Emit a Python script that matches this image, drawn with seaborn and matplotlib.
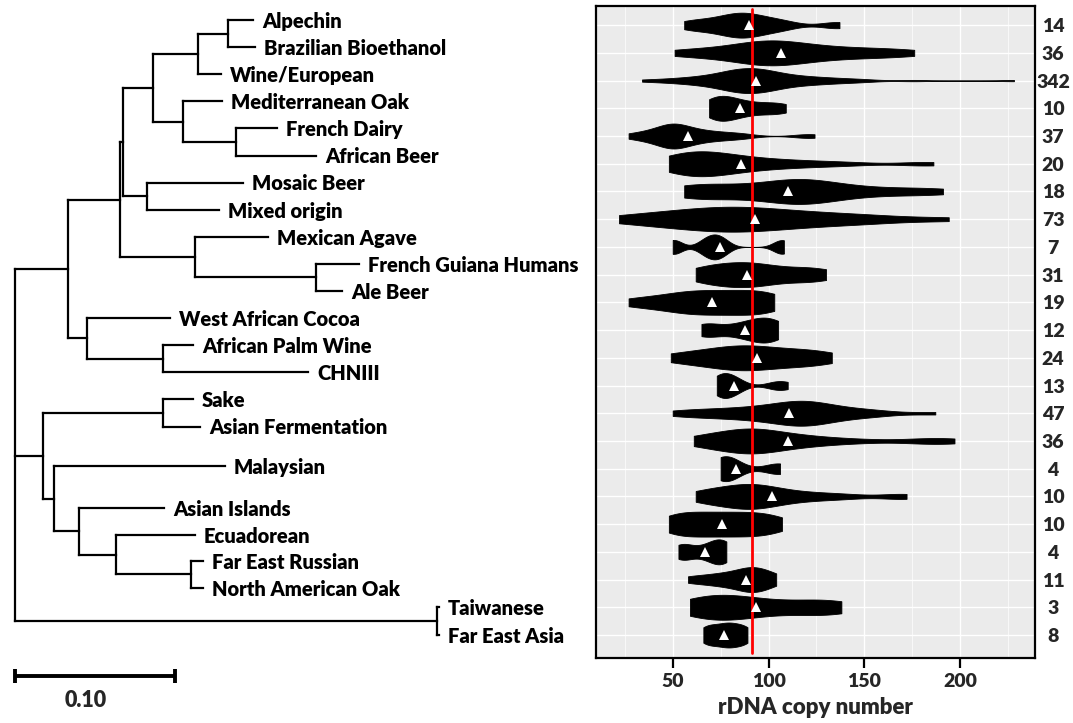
import numpy as np
import pandas as pd
import matplotlib
matplotlib.use("Agg")
import matplotlib.pyplot as plt
import seaborn as sns

# ---------------- data ----------------
populations = ["Alpechin", "Brazilian Bioethanol", "Wine/European", "Mediterranean Oak",
               "French Dairy", "African Beer", "Mosaic Beer", "Mixed origin", "Mexican Agave",
               "French Guiana Humans", "Ale Beer", "West African Cocoa", "African Palm Wine",
               "CHNIII", "Sake", "Asian Fermentation", "Malaysian", "Asian Islands",
               "Ecuadorean", "Far East Russian", "North American Oak", "Taiwanese",
               "Far East Asia"]
strain_counts = [14, 36, 342, 10, 37, 20, 18, 73, 7, 31, 19, 12, 24, 13, 47, 36, 4, 10, 10,
                 4, 11, 3, 8]
mean_copy_number = [90, 106.4, 93.6, 85, 58, 85.8, 110, 92.9, 74.9, 89, 70.7, 87.6, 94.1,
                    82.2, 110.9, 110, 83.2, 101.9, 75.9, 67, 88.3, 93.6, 76.6]
# representative rDNA copy number values per population
copy_number_samples = [
    [56, 60, 65, 70, 74, 77, 80, 82, 84, 86, 88, 90, 92, 95, 98, 102, 106, 111, 134, 137],
    [51, 62, 72, 80, 86, 90, 94, 97, 100, 103, 106, 110, 114, 118, 124, 130, 138, 146, 155,
     165, 176],
    [34, 44, 50, 55, 59, 62, 65, 68, 70, 72, 74, 76, 78, 79, 80, 81, 82, 83, 84, 85, 86, 87,
     88, 89, 90, 91, 92, 93, 94, 95, 96, 97, 98, 99, 100, 101, 102, 104, 106, 108, 110, 112,
     114, 117, 120, 123, 126, 130, 134, 139, 145, 152, 176, 228],
    [69, 70, 72, 74, 76, 78, 80, 83, 86, 90, 95, 100, 105, 109],
    [27, 32, 36, 39, 42, 44, 46, 47, 48, 49, 50, 51, 52, 53, 54, 56, 58, 60, 62, 65, 68, 71,
     75, 79, 84, 89, 118, 124],
    [48, 49, 51, 53, 55, 57, 59, 61, 63, 65, 67, 69, 71, 73, 75, 78, 81, 84, 88, 92, 97, 102,
     108, 115, 123, 133, 145, 178, 186],
    [56, 58, 62, 68, 75, 83, 92, 100, 105, 109, 112, 115, 118, 121, 124, 128, 134, 142, 152,
     165, 180, 191],
    [22, 35, 45, 53, 60, 66, 71, 76, 81, 86, 91, 96, 102, 109, 117, 126, 136, 148, 162, 194],
    [50, 51, 66, 69, 72, 74, 77, 106, 108],
    [62, 66, 72, 77, 81, 85, 89, 93, 97, 102, 110, 118, 124, 130],
    [27, 36, 44, 50, 55, 58, 62, 66, 70, 74, 78, 82, 86, 90, 94, 98, 101, 103],
    [65, 67, 70, 80, 86, 90, 93, 96, 99, 101, 103, 105],
    [49, 58, 66, 72, 77, 81, 85, 89, 93, 97, 102, 108, 114, 120, 126, 133],
    [73, 74, 75, 76, 77, 79, 81, 83, 85, 102, 106, 110],
    [50, 58, 66, 73, 79, 85, 90, 95, 99, 103, 106, 109, 112, 114, 116, 118, 120, 122, 124,
     127, 130, 134, 139, 145, 152, 160, 187],
    [61, 65, 70, 75, 79, 83, 86, 88, 90, 92, 94, 97, 100, 104, 108, 113, 119, 126, 135, 150,
     175, 188, 197],
    [75, 76, 77, 79, 82, 104, 106],
    [62, 65, 69, 73, 77, 80, 83, 86, 88, 90, 92, 94, 96, 99, 102, 106, 111, 117, 124, 133,
     143, 167, 172],
    [48, 50, 54, 58, 62, 66, 70, 74, 78, 82, 86, 90, 94, 98, 102, 107],
    [53, 55, 58, 66, 70, 73, 75, 77, 78],
    [58, 66, 72, 77, 81, 85, 88, 90, 92, 94, 97, 100, 104],
    [59, 63, 68, 73, 78, 83, 88, 95, 105, 115, 125, 133, 138],
    [66, 68, 71, 74, 77, 79, 81, 84, 87, 89],
]
genome_wide_mean = 91.5
x_ticks = [50, 100, 150, 200]
x_label = "rDNA copy number"

# phylogeny: (children or leaf name, branch length)
tree = ([
    ([
        ([
            ([
                ([
                    ([("Alpechin", 0.0156), ("Brazilian Bioethanol", 0.0169)], 0.0188),
                    ("Wine/European", 0.0144)], 0.0281),
                ([("Mediterranean Oak", 0.0244),
                  ([("French Dairy", 0.0256), ("African Beer", 0.0500)], 0.0331)], 0.0188),
            ], 0.0188),
            ([("Mosaic Beer", 0.0600), ("Mixed origin", 0.0450)], 0.0150),
        ], 0.0019),
        ([("Mexican Agave", 0.0456),
          ([("French Guiana Humans", 0.0269), ("Ale Beer", 0.0163)], 0.0756)], 0.0469),
    ], 0.0325),
    ([("West African Cocoa", 0.0519),
      ([("African Palm Wine", 0.0188), ("CHNIII", 0.0906)], 0.0475)], 0.0119),
], 0.0331)
tree = ([
    tree,
    ([
        ([("Sake", 0.0188), ("Asian Fermentation", 0.0231)], 0.0750),
        ([("Malaysian", 0.1069),
          ([("Asian Islands", 0.0531),
            ([("Ecuadorean", 0.0494),
              ([("Far East Russian", 0.0075), ("North American Oak", 0.0075)], 0.0469)],
             0.0231)], 0.0156)], 0.0069),
    ], 0.0175),
    ([("Taiwanese", 0.001), ("Far East Asia", 0.001)], 0.2638),
], 0.0)
scale_bar_length = 0.10

# layout (row position of each tree tip)
tip_rows = [0, 1, 2, 3, 4, 5, 6, 7, 8, 9, 10, 11, 12, 13, 14, 15,
            16.46, 18.0, 19.0, 19.96, 20.96, 21.66, 22.69]

# ---------------- style ----------------
sns.set_theme(style="white")
plt.rcParams["font.family"] = ["Lato", "DejaVu Sans"]
plt.rcParams["font.weight"] = "heavy"
FW = "heavy"

W, H = 1073, 723
fig = plt.figure(figsize=(W / 100, H / 100), dpi=100)

# ---------------- tree ----------------
axt = fig.add_axes([0, 0, 590 / W, 1])
axt.set_xlim(-15 / 1600, 575 / 1600)
axt.set_ylim((H - 20) / 27.1, -20 / 27.1)
axt.axis("off")

tip_y = dict(zip(populations, tip_rows))
segments = []
tips = []


def walk(node, x0):
    content, bl = node
    x = x0 + bl
    if isinstance(content, str):
        y = tip_y[content]
        segments.append(([x0, x], [y, y]))
        tips.append((content, x, y))
        return y
    ys = [walk(child, x) for child in content]
    y = (ys[0] + ys[-1]) / 2
    segments.append(([x, x], [min(ys), max(ys)]))
    if bl > 0:
        segments.append(([x0, x], [y, y]))
    return y


walk(tree, 0.0)
for xs, ys in segments:
    axt.plot(xs, ys, color="black", lw=1.6, solid_capstyle="projecting")
for name, x, y in tips:
    axt.annotate(name, (x, y), xytext=(6.5, -1), textcoords="offset points",
                 ha="left", va="center", fontsize=14.5, fontweight=FW, color="black")

axt.plot([0, scale_bar_length], [24.2, 24.2], color="black", lw=2.8,
         marker="|", markersize=10, markeredgewidth=2.8, solid_capstyle="butt")
axt.text(scale_bar_length * 0.44, 25.1, f"{scale_bar_length:.2f}", ha="center", va="center",
         fontsize=15.5, fontweight=FW)

# ---------------- violins ----------------
df = pd.DataFrame({
    "population": np.repeat(populations, [len(s) for s in copy_number_samples]),
    "copy_number": np.concatenate(copy_number_samples),
})
df_mean = pd.DataFrame({"population": populations, "mean": mean_copy_number})


def nrd0(kde):
    x = kde.dataset[0]
    sd = x.std(ddof=1)
    q75, q25 = np.percentile(x, [75, 25])
    lo = min(sd, (q75 - q25) / 1.34)
    if lo <= 0:
        lo = sd
    return 0.9 * lo * len(x) ** -0.2 / sd


ax = fig.add_axes([596 / W, 1 - 658 / H, 439 / W, 652 / H])
ax.set_facecolor("#EBEBEB")
sns.violinplot(data=df, x="copy_number", y="population", order=populations, orient="h",
               cut=0, density_norm="width", width=0.9, inner=None, color="black",
               linecolor="black", linewidth=0.6, saturation=1, bw_method=nrd0,
               bw_adjust=0.9, gridsize=300, ax=ax)
for c in ax.collections:
    c.set_zorder(2)
ax.axvline(genome_wide_mean, ymin=0.008, ymax=0.995, color="#FF0000", lw=2, zorder=3)
sns.pointplot(data=df_mean, x="mean", y="population", order=populations, orient="h",
              errorbar=None, color="white", marker="^", linestyle="none", markersize=7.5,
              markeredgewidth=0, ax=ax, zorder=4)

ax.set_xlim(10, 239)
ax.set_ylim(22.83, -0.69)
ax.set_xticks(x_ticks)
ax.set_xticks([25, 75, 125, 175, 225], minor=True)
ax.set_xticklabels([str(t) for t in x_ticks], fontsize=14, fontweight=FW)
ax.set_yticks(range(len(populations)))
ax.set_yticklabels([str(n) for n in strain_counts], fontsize=14, fontweight=FW)
ax.yaxis.tick_right()
for lbl in ax.get_yticklabels():
    lbl.set_horizontalalignment("center")
ax.tick_params(axis="y", length=0, pad=13)
ax.tick_params(axis="x", which="major", length=7, width=1.6, color="black", pad=4,
               bottom=True)
ax.tick_params(axis="x", which="minor", length=0)
ax.set_ylabel("")
ax.set_xlabel(x_label, fontsize=16, fontweight=FW, labelpad=5)
ax.grid(True, which="major", color="white", lw=1.0)
ax.grid(True, which="minor", axis="x", color="white", lw=0.5)
ax.set_axisbelow(True)
for sp in ax.spines.values():
    sp.set_visible(True)
    sp.set_color("black")
    sp.set_linewidth(1.6)

fig.savefig("out.png", dpi=100, facecolor="white")
